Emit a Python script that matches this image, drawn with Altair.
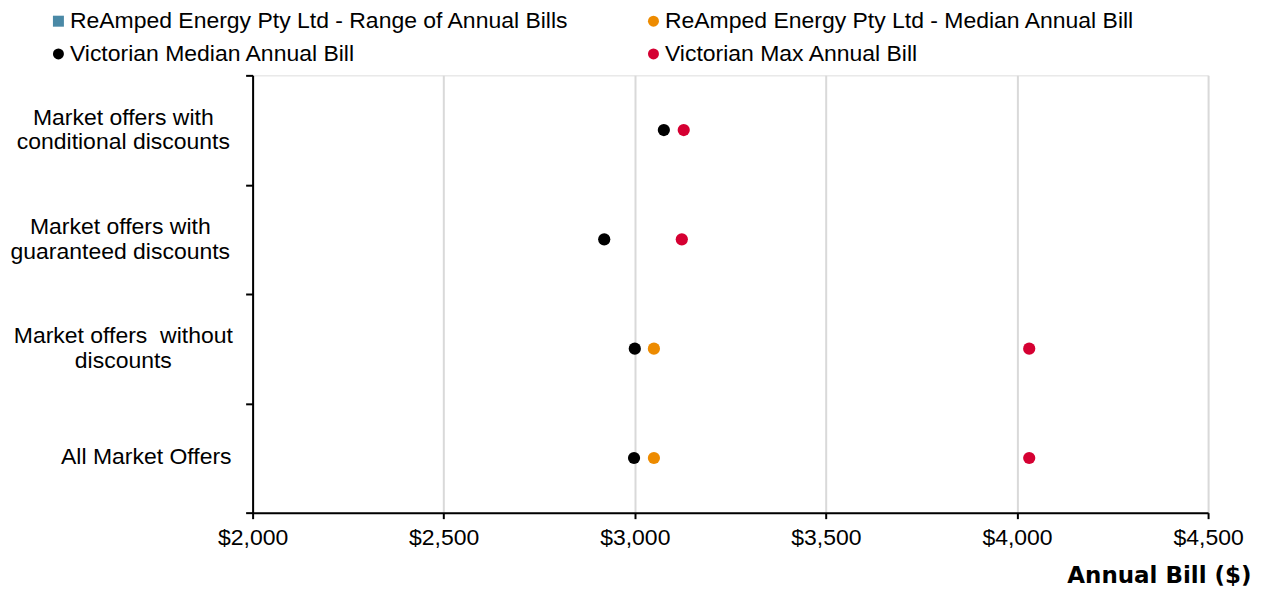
import altair as alt
import pandas as pd

# ---------------- data ----------------
categories = [
    "Market offers with|conditional discounts",
    "Market offers with|guaranteed discounts",
    "Market offers \u00a0without|discounts",
    "All Market Offers",
]
vic_median = [3076, 2920, 3000, 2998]
vic_max = [3128, 3123, 4032, 4032]
reamped_median = [None, None, 3050, 3050]

# legend order (filled column by column: col 1 = first two, col 2 = last two)
series_names = [
    "ReAmped Energy Pty Ltd - Range of Annual Bills",
    "Victorian Median Annual Bill",
    "ReAmped Energy Pty Ltd - Median Annual Bill",
    "Victorian Max Annual Bill",
]
series_colors = ["#4a89a6", "#000000", "#ed8b00", "#d50032"]
series_shapes = ["square", "circle", "circle", "circle"]
x_ticks = [2000, 2500, 3000, 3500, 4000, 4500]

rows = []
for name, vals in [
    ("Victorian Median Annual Bill", vic_median),
    ("Victorian Max Annual Bill", vic_max),
    ("ReAmped Energy Pty Ltd - Median Annual Bill", reamped_median),
]:
    for c, v in zip(categories, vals):
        if v is not None:
            rows.append({"cat": c, "series": name, "value": v})
df = pd.DataFrame(rows)

cat_list = "['" + "','".join(categories) + "']"
pad_expr = "[123, 126, 123, 100][indexof(" + cat_list + ", datum.value)]"
lh_expr = "[25, 25, 25, 1][indexof(" + cat_list + ", datum.value)]"

FS = 23

legend_kw = dict(
    title=None,
    orient="none",
    legendX=-206,
    legendY=-66,
    columns=2,
    columnPadding=73,
    rowPadding=9,
    labelOffset=0,
    labelFont="Liberation Sans",
    labelFontSize=FS,
    labelColor="black",
    labelLimit=800,
    symbolSize=121,
    padding=0,
)

chart = (
    alt.Chart(df)
    .mark_point(filled=True, size=150, opacity=1)
    .encode(
        x=alt.X(
            "value:Q",
            scale=alt.Scale(domain=[2000, 4500], nice=False, zero=False),
            axis=alt.Axis(
                values=x_ticks,
                format="$,.0f",
                title="Annual Bill ($)",
                titleFont="DejaVu Sans",
                titleFontWeight="bold",
                titleFontSize=FS,
                titleColor="black",
                titleX=1000,
                titleY=63,
                titleAlign="right",
                titleBaseline="middle",
                labelFont="Liberation Sans",
                labelFontSize=FS,
                labelColor="black",
                labelPadding=8,
                labelAlign="center",
                tickSize=6,
                tickColor="black",
                tickWidth=2,
                domainColor="black",
                domainWidth=2,
                grid=True,
                gridColor="#d9d9d9",
                gridWidth=2,
            ),
        ),
        y=alt.Y(
            "cat:N",
            sort=categories,
            scale=alt.Scale(type="band", paddingInner=0, paddingOuter=0),
            axis=alt.Axis(
                title=None,
                labelExpr="split(datum.label, '|')",
                labelAlign="center",
                labelBaseline="line-bottom",
                labelPadding={"expr": pad_expr},
                labelLineHeight={"expr": lh_expr},
                labelFont="Liberation Sans",
                labelFontSize=FS,
                labelColor="black",
                labelLimit=400,
                tickBand="extent",
                tickSize=7,
                tickColor="black",
                tickWidth=2,
                domainColor="black",
                domainWidth=2,
                grid=False,
            ),
        ),
        color=alt.Color(
            "series:N",
            scale=alt.Scale(domain=series_names, range=series_colors),
            legend=alt.Legend(**legend_kw),
        ),
        shape=alt.Shape(
            "series:N",
            scale=alt.Scale(domain=series_names, range=series_shapes),
            legend=alt.Legend(**legend_kw),
        ),
    )
    .properties(
        width=957,
        height=438,
        autosize=alt.AutoSizeParams(type="none"),
        padding={"left": 245, "top": 67, "right": 50, "bottom": 76},
    )
    .configure_view(stroke=None)
    .configure(background="white")
)

chart.save("out.html", embed_options={"renderer": "svg", "actions": False})
